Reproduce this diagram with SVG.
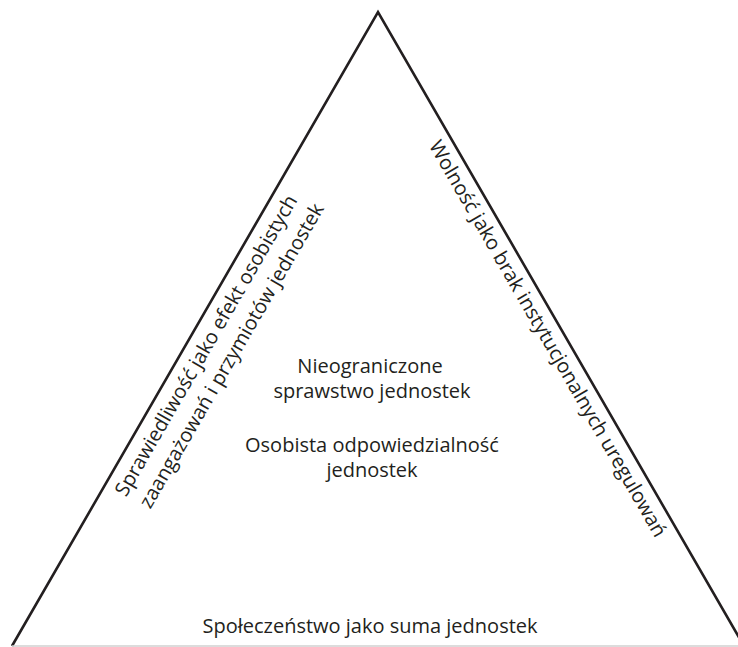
<svg xmlns="http://www.w3.org/2000/svg" width="738" height="647" viewBox="0 0 738 647">
  <style>
    .edge { fill: none; stroke: #231f20; stroke-width: 2.6; stroke-linejoin: miter; }
    .base { stroke: #d0d0d0; stroke-width: 1.5; }
    .lbl { font-family: "Open Sans", "Liberation Sans", sans-serif; font-size: 20px; fill: #231f20; text-anchor: middle; }
  </style>
  <rect width="738" height="647" fill="#ffffff"/>
  <g id="connectors">
    <path class="edge" d="M12,646 L378,12 L744,646"/>
    <line class="base" x1="12" y1="646" x2="738" y2="646"/>
  </g>
  <g id="node-left">
    <g transform="translate(212,349) rotate(-60)">
      <text class="lbl" x="0" y="0">Sprawiedliwość jako efekt osobistych</text>
      <text class="lbl" x="4" y="27">zaangażowań i przymiotów jednostek</text>
    </g>
  </g>
  <g id="node-right">
    <g transform="translate(542,342) rotate(60)">
      <text class="lbl" x="0" y="0">Wolność jako brak instytucjonalnych uregulowań</text>
    </g>
  </g>
  <g id="node-center">
    <text class="lbl" x="370" y="373">Nieograniczone</text>
    <text class="lbl" x="372" y="398">sprawstwo jednostek</text>
    <text class="lbl" x="372" y="452">Osobista odpowiedzialność</text>
    <text class="lbl" x="372" y="477">jednostek</text>
  </g>
  <g id="node-base">
    <text class="lbl" x="370" y="633">Społeczeństwo jako suma jednostek</text>
  </g>
</svg>
